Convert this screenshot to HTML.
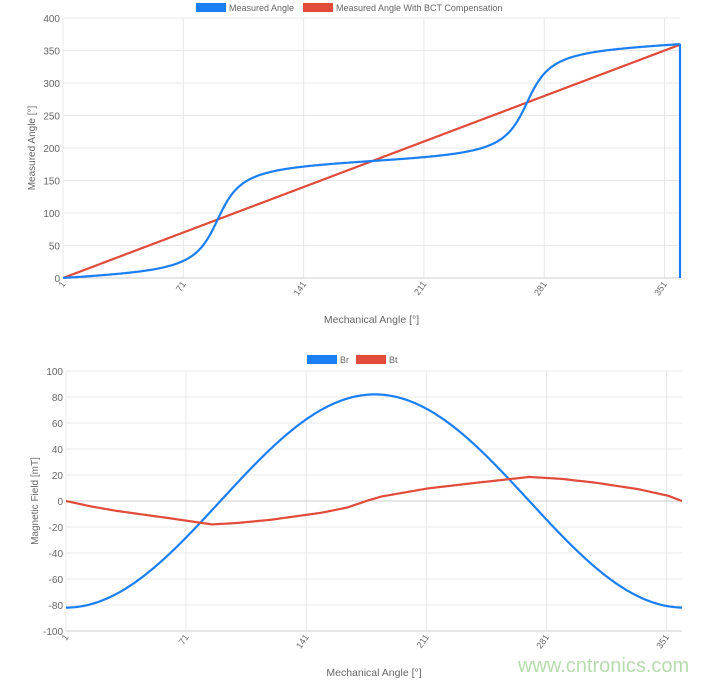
<!DOCTYPE html>
<html><head><meta charset="utf-8"><style>
body{margin:0;background:#fff;}
svg{display:block;font-family:"Liberation Sans","DejaVu Sans",sans-serif;}
</style></head><body>
<svg id="s" width="707" height="682" viewBox="0 0 707 682" xmlns="http://www.w3.org/2000/svg">
<rect width="707" height="682" fill="#fff"/>
<g id="g"></g>
<text x="518" y="672" font-size="20" fill="#b6dcae">www.cntronics.com</text>
</svg>
<script>
const g=document.getElementById('g');let h='';
function T(x,y,t,o){h+=`<text x="${x}" y="${y}" font-size="${o&&o.fs||10}" fill="#666" ${o&&o.a||''}>${t}</text>`;}
function chart(L,R,top,bot,ymin,ymax,ystep,ytitle,legend,series,zeroLine){
  const xs=x=>L+(x-1)*(R-L)/359, ys=v=>bot-(v-ymin)*(bot-top)/(ymax-ymin);
  for(let v=ymin;v<=ymax;v+=ystep){const y=ys(v);h+=`<line x1="${L}" x2="${R}" y1="${y}" y2="${y}" stroke="#e8e8e8"/>`;T(L-3,y+4,v,{a:'text-anchor="end"'});}
  for(let x=1;x<=351;x+=70){const X=xs(x);h+=`<line x1="${X}" x2="${X}" y1="${top}" y2="${bot}" stroke="#e8e8e8"/>`;
    h+=`<text transform="translate(${X+3},${bot+6}) rotate(-55)" text-anchor="end" font-size="9" fill="#666">${x}</text>`;}
  h+=`<line x1="${L}" x2="${R}" y1="${bot}" y2="${bot}" stroke="#ccc"/>`;
  if(zeroLine)h+=`<line x1="${L}" x2="${R}" y1="${ys(0)}" y2="${ys(0)}" stroke="#ccc"/>`;
  h+=`<text transform="translate(${L-28},${(top+bot)/2}) rotate(-90)" text-anchor="middle" font-size="10" fill="#666">${ytitle}</text>`;
  T((L+R)/2,bot+45,'Mechanical Angle [°]',{fs:10.5,a:'text-anchor="middle"'});
  for(const [lx,ly,c,t] of legend){h+=`<rect x="${lx}" y="${ly}" width="30" height="9" fill="${c}"/>`;T(lx+33,ly+8,t,{fs:9});}
  for(const [c,f,extra] of series){let d='';for(let x=1;x<=360;x+=0.5){d+=(d?'L':'M')+xs(x).toFixed(1)+','+ys(f(x)).toFixed(1);}
    if(extra)d+=extra(xs,ys);h+=`<path d="${d}" fill="none" stroke="${c}" stroke-width="2.2"/>`;}
}
const B='#1a7ff5',Rd='#e04b3a',rad=Math.PI/180;
function meas(x){const t=(x-1)*rad;let a=Math.atan2(0.18*Math.sin(t),Math.cos(t))/rad;if(a<0)a+=360;if(x>=359.9)a=359;if(x<2&&a>300)a=0;return a;}
function pl(pts){return x=>{for(let i=1;i<pts.length;i++){if(x<=pts[i][0]){const [a,b]=pts[i-1],[c,d]=pts[i];return b+(d-b)*(x-a)/(c-a);}}return pts[pts.length-1][1];};}
const bt=pl([[1,0],[15,-4],[30,-7.5],[60,-13],[86,-18],[100,-17],[120,-14.5],[150,-9],[165,-5],[176,0],[185,3.5],[211,9.5],[240,14],[271,18.5],[290,17],[310,14],[335,9],[352,4],[360,0]]);
chart(63,680,18,278,0,400,50,'Measured Angle [°]',[[196,3,B,'Measured Angle'],[303,3,Rd,'Measured Angle With BCT Compensation']],
 [[Rd,x=>(x-1)],[B,meas,(xs,ys)=>'L'+xs(360)+','+ys(0)]],false);
chart(66,682,371,631,-100,100,20,'Magnetic Field [mT]',[[307,355,B,'Br'],[356,355,Rd,'Bt']],
 [[B,x=>-82*Math.cos((x-1)*rad)],[Rd,bt]],true);
g.innerHTML=h;
</script>
</body></html>
